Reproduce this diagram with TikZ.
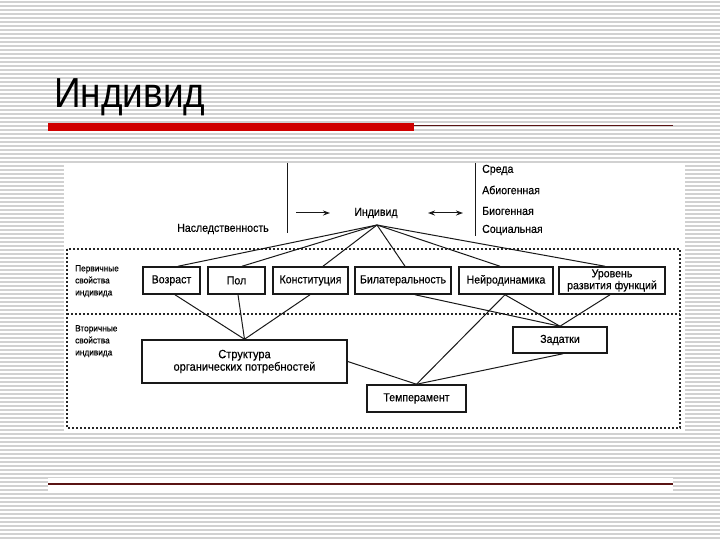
\documentclass[tikz,border=0pt]{standalone}
\usepackage{fontspec}
\setmainfont{Liberation Sans}
\newfontfamily\narrowfont{Liberation Sans}[FakeStretch=0.88]
\newfontfamily\diagfont{Liberation Sans}[FakeStretch=0.92,FakeBold=0.35]
\usetikzlibrary{calc,arrows.meta}
\definecolor{titlered}{HTML}{D00000}
\definecolor{darkline}{HTML}{5A1414}
\begin{document}
\begin{tikzpicture}[x=1pt,y=-1pt,
  box/.style={draw=black!90,line width=1.5pt,fill=white,inner sep=0pt,align=center,
    font=\diagfont\fontsize{11.5}{10.5}\selectfont},
  lnk/.style={line width=1pt,black!90},
  lbl/.style={font=\diagfont\fontsize{11.5}{12}\selectfont,inner sep=0pt},
  side/.style={font=\diagfont\fontsize{9}{12}\selectfont,align=left,inner sep=0pt,anchor=north west},
  frame/.style={line width=1.1pt,black!85,dash pattern=on 2pt off 2pt},
  tip/.style={-{Stealth[length=7pt,width=5pt]},line width=1pt,black!90}]
\useasboundingbox (0,0) rectangle (720,540);
\fill[white] (0,0) rectangle (720,540);
\foreach \y in {2,6,...,538} \draw[line width=1.3pt,black!18] (0,\y) -- (720,\y);
% title
\node[anchor=base west,inner sep=0pt,font=\narrowfont\fontsize{42}{42}\selectfont] (title) at (54,108) {Индивид};
\fill[titlered] (48,123) rectangle (414,131);
\draw[line width=1pt,darkline] (414,125.5) -- (673,125.5);
\fill[white] (48,478) rectangle (673,491);
\draw[line width=1.2pt,darkline] (48,484) -- (673,484);
% picture area
\fill[white] (64,163) rectangle (685,431);
\draw[frame] (67,249) rectangle (680,428);
\draw[frame] (67,314) -- (680,314);
% top part
\draw[line width=1pt,black!90] (287,163) -- (287,233);
\draw[line width=1pt,black!90] (475,163) -- (475,236);
\node[lbl] (ind) at (376,213) {Индивид};
\node[lbl] (nasl) at (223,229) {Наследственность};
\node[lbl,anchor=west] (sreda) at (482,170) {Среда};
\node[lbl,anchor=west] (abio) at (482,190) {Абиогенная};
\node[lbl,anchor=west] (bio) at (482,211) {Биогенная};
\node[lbl,anchor=west] (soc) at (482,230) {Социальная};
\coordinate (al) at (296,213);
\coordinate (ar) at (330,213);
\draw[tip] (al) -- (ar);
\coordinate (bl) at (428,213);
\coordinate (br) at (463,213);
\draw[tip,{Stealth[length=7pt,width=5pt]}-{Stealth[length=7pt,width=5pt]}] (bl) -- (br);
\coordinate (indp) at (377,225);
% side labels
\node[side] (prim) at (75,265) {Первичные\\свойства\\индивида};
\node[side] (sec) at (75,325) {Вторичные\\свойства\\индивида};
% primary boxes
\node[box,minimum width=57pt,minimum height=27pt] (voz) at (171.5,280.5) {Возраст};
\node[box,minimum width=57pt,minimum height=27pt] (pol) at (236.5,280.5) {Пол};
\node[box,minimum width=75pt,minimum height=27pt] (kon) at (310.5,280.5) {Конституция};
\node[box,minimum width=96pt,minimum height=27pt] (bil) at (403,280.5) {Билатеральность};
\node[box,minimum width=94pt,minimum height=27pt] (ney) at (506,280.5) {Нейродинамика};
\node[box,minimum width=106pt,minimum height=27pt] (urv) at (612,280.5) {Уровень\\развития функций};
% secondary boxes
\node[box,minimum width=205pt,minimum height=43pt,font=\diagfont\fontsize{12}{12.5}\selectfont] (str) at (244.5,361.5) {Структура\\органических потребностей};
\node[box,minimum width=94pt,minimum height=26pt] (zad) at (560,340) {Задатки};
\node[box,minimum width=99pt,minimum height=27pt] (tem) at (416.5,398.5) {Темперамент};
% links from individual
\draw[lnk] (indp) -- ([xshift=6.5pt]voz.north);
\draw[lnk] (indp) -- ([xshift=5.5pt]pol.north);
\draw[lnk] (indp) -- ([xshift=12.5pt]kon.north);
\draw[lnk] (indp) -- ([xshift=2pt]bil.north);
\draw[lnk] (indp) -- ([xshift=-6pt]ney.north);
\draw[lnk] (indp) -- ([xshift=-7pt]urv.north);
% to structure
\draw[lnk] ([xshift=3.5pt]voz.south) -- (str.north);
\draw[lnk] ([xshift=1.5pt]pol.south) -- (str.north);
\draw[lnk] ([xshift=-0.5pt]kon.south) -- (str.north);
% to zadatki
\draw[lnk] ([xshift=12pt]bil.south) -- (zad.north);
\draw[lnk] ([xshift=-1pt]ney.south) -- (zad.north);
\draw[lnk] ([xshift=-2pt]urv.south) -- (zad.north);
% to temperament
\draw[lnk] ([xshift=-1pt]ney.south) -- (tem.north);
\draw[lnk] (str.east) -- (tem.north);
\draw[lnk] ([xshift=3pt]zad.south) -- (tem.north);
\end{tikzpicture}
\end{document}
